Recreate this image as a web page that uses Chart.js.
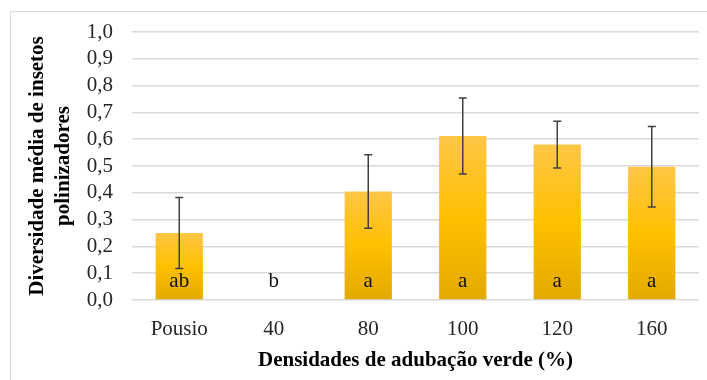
<!DOCTYPE html>
<html>
<head>
<meta charset="utf-8">
<script src="https://cdn.jsdelivr.net/npm/chart.js@4"></script>
<style>
  html, body { margin: 0; padding: 0; background: #fff; }
  canvas { display: block; }
</style>
</head>
<body>
<canvas id="barChart" width="707" height="380"></canvas>
<script>
const categories = ["Pousio", "40", "80", "100", "120", "160"];
const means = [0.25, 0, 0.405, 0.612, 0.58, 0.497];
const errors = [0.132, 0, 0.137, 0.142, 0.087, 0.15];
const letters = ["ab", "b", "a", "a", "a", "a"];
const yTicks = [0, 0.1, 0.2, 0.3, 0.4, 0.5, 0.6, 0.7, 0.8, 0.9, 1.0];

const serif = "'Liberation Serif', 'Times New Roman', serif";

// gradient per bar, from its top down to zero
function barFill(ctx) {
    const chart = ctx.chart;
    const y = chart.scales.y;
    if (!y || ctx.raw == null) return "#ffc000";
    const top = y.getPixelForValue(ctx.raw);
    const base = y.getPixelForValue(0);
    if (!isFinite(top) || Math.abs(base - top) < 1) return "#ffc000";
    const g = chart.ctx.createLinearGradient(0, top, 0, base);
    g.addColorStop(0, "#ffc646");
    g.addColorStop(0.5, "#ffc000");
    g.addColorStop(1, "#e2a900");
    return g;
}

const frame = {
    id: "frame",
    beforeDraw(chart) {
        const c = chart.ctx;
        c.save();
        c.strokeStyle = "#d9d9d9";
        c.lineWidth = 1;
        c.strokeRect(10.5, 11.5, 1000, 1000);
        c.restore();
    },
};

const errorBars = {
    id: "errorBars",
    afterDatasetsDraw(chart) {
        const c = chart.ctx;
        const y = chart.scales.y;
        const meta = chart.getDatasetMeta(0);
        c.save();
        c.strokeStyle = "#404040";
        c.lineWidth = 1.5;
        meta.data.forEach((bar, i) => {
            if (!errors[i]) return;
            const hi = y.getPixelForValue(means[i] + errors[i]);
            const lo = y.getPixelForValue(means[i] - errors[i]);
            c.beginPath();
            c.moveTo(bar.x, hi);
            c.lineTo(bar.x, lo);
            c.moveTo(bar.x - 4, hi);
            c.lineTo(bar.x + 4, hi);
            c.moveTo(bar.x - 4, lo);
            c.lineTo(bar.x + 4, lo);
            c.stroke();
        });
        // letters of the mean comparison test
        c.fillStyle = "#111";
        c.font = "21px " + serif;
        c.textAlign = "center";
        c.textBaseline = "middle";
        const base = y.getPixelForValue(0);
        meta.data.forEach((bar, i) => {
            c.fillText(letters[i], bar.x, base - 19);
        });
        c.restore();
    },
};

new Chart(document.querySelector("#barChart").getContext("2d"), {
    type: "bar",
    data: {
        labels: categories,
        datasets: [
            {
                data: means,
                backgroundColor: barFill,
                borderWidth: 0,
                barPercentage: 1,
                categoryPercentage: 0.5,
            },
        ],
    },
    options: {
        responsive: false,
        animation: false,
        layout: { padding: { left: 0, top: 32, right: 8, bottom: 0 } },
        plugins: {
            legend: { display: false },
            tooltip: { enabled: false },
        },
        scales: {
            x: {
                grid: { display: false },
                border: { display: false },
                ticks: {
                    color: "#262626",
                    font: { family: serif, size: 21 },
                    padding: 9,
                    maxRotation: 0,
                    autoSkip: false,
                },
                title: {
                    display: true,
                    text: "Densidades de adubação verde (%)",
                    color: "#000",
                    font: { family: serif, size: 21, weight: "bold", lineHeight: 1.24 },
                    padding: { top: 0, bottom: 6 },
                },
                afterFit(scale) {
                    scale.height = 80;
                },
            },
            y: {
                min: 0,
                max: 1,
                border: { display: false },
                grid: { color: "#d9d9d9", lineWidth: 1.5, drawTicks: false },
                afterBuildTicks(scale) {
                    scale.ticks = yTicks.map((v) => ({ value: v }));
                },
                ticks: {
                    color: "#262626",
                    font: { family: serif, size: 21 },
                    padding: 19,
                    autoSkip: false,
                    callback: (v) => v.toFixed(1).replace(".", ","),
                },
                title: {
                    display: true,
                    text: ["Diversidade média de insetos", "polinizadores"],
                    color: "#000",
                    font: { family: serif, size: 21, weight: "bold", lineHeight: 1.24 },
                    padding: { top: 25, bottom: 0 },
                },
                afterFit(scale) {
                    scale.width = 132;
                },
            },
        },
    },
    plugins: [frame, errorBars],
});
</script>
</body>
</html>
